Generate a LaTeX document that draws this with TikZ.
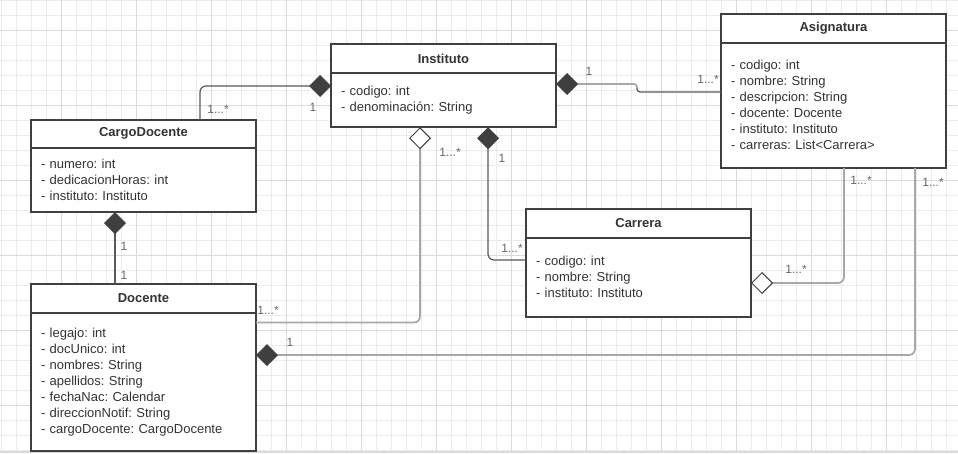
\documentclass[tikz,border=0pt]{standalone}
\usepackage{fontspec}
\setmainfont{Liberation Sans}
\usepackage{tikz}
\usetikzlibrary{arrows.meta}
\usetikzlibrary{positioning}
\frenchspacing
\definecolor{boxgray}{HTML}{3F3F3F}
\definecolor{txtgray}{HTML}{333333}
\definecolor{multgray}{HTML}{666666}
\definecolor{darkline}{HTML}{595959}
\definecolor{lightline}{HTML}{A8A8A8}
\definecolor{minorgrid}{HTML}{EBEBEB}
\definecolor{majorgrid}{HTML}{DADADA}
\tikzset{>=latex}
\tikzset{comp/.tip={Diamond[length=22pt, width=22pt, color=boxgray]}}
\tikzset{aggr/.tip={Diamond[length=22pt, width=22pt, fill=white, color=boxgray, line width=1pt]}}
\tikzstyle{classhead} = [draw=boxgray, line width=2pt, fill=white, minimum width=225pt, minimum height=28.5pt, outer sep=0pt, inner sep=0pt, text=txtgray, font=\bfseries\fontsize{13}{16}\selectfont]
\tikzstyle{classbody} = [draw=boxgray, line width=2pt, fill=white, minimum width=225pt, text width=205pt, inner xsep=10pt, inner ysep=0pt, align=left, outer sep=0pt, text=txtgray, font=\fontsize{13}{16}\selectfont\frenchspacing]
\tikzstyle{mult} = [inner sep=0pt, text=multgray, font=\fontsize{12}{14}\selectfont]
\tikzstyle{link} = [draw=darkline, line width=1.2pt, rounded corners=6pt]
\tikzstyle{linklight} = [draw=lightline, line width=1.7pt, rounded corners=6pt]

\begin{document}
\begin{tikzpicture}[x=1pt, y=-1pt]
\useasboundingbox (0,0) rectangle (958,453);
\fill [white] (0,0) rectangle (958,453);
% grid
\foreach \gx in {1,16,...,946} \draw [minorgrid, line width=1pt] (\gx,0) -- (\gx,453);
\foreach \gy in {0,15,...,450} \draw [minorgrid, line width=1pt] (0,\gy) -- (958,\gy);
\foreach \gx in {61,136,...,886} \draw [majorgrid, line width=1pt] (\gx,0) -- (\gx,453);
\foreach \gy in {30,105,...,405} \draw [majorgrid, line width=1pt] (0,\gy) -- (958,\gy);
\fill [majorgrid] (0,450.5) rectangle (958,453);

\node [classhead] (instH) at (443.5, 58.5) {Instituto};
\node [classbody, minimum height=54.5pt, below=0pt of instH] (instB) {- codigo: int\\- denominación: String};

\node [classhead] (cargoH) at (143.5, 133.75) {CargoDocente};
\node [classbody, minimum height=64pt, below=0pt of cargoH] (cargoB) {- numero: int\\- dedicacionHoras: int\\- instituto: Instituto};

\node [classhead] (asigH) at (833.5, 28.5) {Asignatura};
\node [classbody, minimum height=125pt, below=0pt of asigH] (asigB) {- codigo: int\\- nombre: String\\- descripcion: String\\- docente: Docente\\- instituto: Instituto\\- carreras: List<Carrera>};

\node [classhead] (docH) at (143.5, 298.5) {Docente};
\node [classbody, minimum height=138pt, below=0pt of docH] (docB) {- legajo: int\\- docUnico: int\\- nombres: String\\- apellidos: String\\- fechaNac: Calendar\\- direccionNotif: String\\- cargoDocente: CargoDocente};

\node [classhead] (carH) at (638.5, 223.5) {Carrera};
\node [classbody, minimum height=79pt, below=0pt of carH] (carB) {- codigo: int\\- nombre: String\\- instituto: Instituto};

\coordinate (jog) at (637, 88);

\draw [link, -{comp}] (cargoH.north -| 200,0) |- (instB.west |- 0,86);
\draw [linklight, {comp}-, rounded corners=3pt] (instB.east |- 0,84) -| (jog);
\draw [link, rounded corners=3pt] (jog) |- (asigB.west |- 0,92);
\draw [linklight, {aggr}-] (instB.south -| 420,0) |- (docB.east |- 0,322.5);
\draw [link, {comp}-] (instB.south -| 488,0) |- (carB.west |- 0,260);
\draw [link, {comp}-] (cargoB.south -| 115,0) -- (docH.north -| 115,0);
\draw [linklight, {aggr}-] (carB.east |- 0,283) -| (asigB.south -| 844,0);
\draw [linklight, {comp}-] (docB.east |- 0,355) -| (asigB.south -| 915,0);

\node [mult] (m1) at (218, 109) {1...*};
\node [mult] (m2) at (313, 107) {1};
\node [mult] (m3) at (589, 71) {1};
\node [mult] (m4) at (708, 79) {1...*};
\node [mult] (m5) at (450, 152) {1...*};
\node [mult] (m6) at (268, 310) {1...*};
\node [mult] (m7) at (502, 158) {1};
\node [mult] (m8) at (512, 248) {1...*};
\node [mult] (m9) at (124, 246) {1};
\node [mult] (m10) at (124, 275) {1};
\node [mult] (m11) at (861, 180) {1...*};
\node [mult] (m12) at (796, 269) {1...*};
\node [mult] (m13) at (933, 182) {1...*};
\node [mult] (m14) at (290, 342) {1};
\end{tikzpicture}
\end{document}
